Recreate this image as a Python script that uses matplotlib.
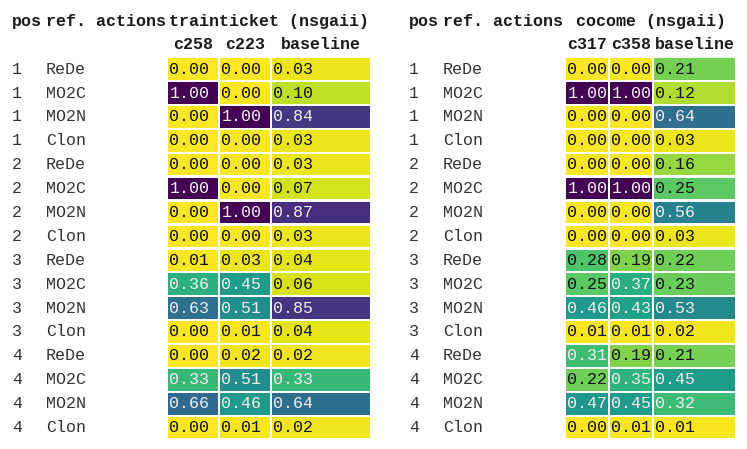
import numpy as np
import matplotlib
matplotlib.use("Agg")
import matplotlib.pyplot as plt
from matplotlib.patches import Rectangle

# data
positions = [1, 1, 1, 1, 2, 2, 2, 2, 3, 3, 3, 3, 4, 4, 4, 4]
actions = ["ReDe", "MO2C", "MO2N", "Clon"] * 4

tt_title = "trainticket (nsgaii)"
tt_cols = ["c258", "c223", "baseline"]
tt_c258 = [0.00, 1.00, 0.00, 0.00, 0.00, 1.00, 0.00, 0.00,
           0.01, 0.36, 0.63, 0.00, 0.00, 0.33, 0.66, 0.00]
tt_c223 = [0.00, 0.00, 1.00, 0.00, 0.00, 0.00, 1.00, 0.00,
           0.03, 0.45, 0.51, 0.01, 0.02, 0.51, 0.46, 0.01]
tt_base = [0.03, 0.10, 0.84, 0.03, 0.03, 0.07, 0.87, 0.03,
           0.04, 0.06, 0.85, 0.04, 0.02, 0.33, 0.64, 0.02]

cc_title = "cocome (nsgaii)"
cc_cols = ["c317", "c358", "baseline"]
cc_c317 = [0.00, 1.00, 0.00, 0.00, 0.00, 1.00, 0.00, 0.00,
           0.28, 0.25, 0.46, 0.01, 0.31, 0.22, 0.47, 0.00]
cc_c358 = [0.00, 1.00, 0.00, 0.00, 0.00, 1.00, 0.00, 0.00,
           0.19, 0.37, 0.43, 0.01, 0.19, 0.35, 0.45, 0.01]
cc_base = [0.21, 0.12, 0.64, 0.03, 0.16, 0.25, 0.56, 0.03,
           0.22, 0.23, 0.53, 0.02, 0.21, 0.45, 0.32, 0.01]

FONT = "Liberation Mono"
FS = 12
cmap = plt.get_cmap("viridis_r")


def luminance(c):
    rgb = []
    for v in c[:3]:
        rgb.append(v / 12.92 if v <= 0.03928 else ((v + 0.055) / 1.055) ** 2.4)
    return 0.2126 * rgb[0] + 0.7152 * rgb[1] + 0.0722 * rgb[2]


def draw_table(ax, title, cols, values, x_pos, x_act, col_edges):
    row_top = 58.3
    pitch = 23.9
    row_h = 21.6
    hdr1_y = 26
    hdr2_y = 49
    bold = dict(fontfamily=FONT, fontsize=FS, fontweight="bold",
                va="baseline", color="#1a1a1a")

    ax.text(x_pos, hdr1_y, "pos", ha="left", **bold)
    ax.text(x_pos + 34, hdr1_y, "ref. actions", ha="left", **bold)
    mid = (col_edges[0][0] + col_edges[-1][1]) / 2
    ax.text(mid, hdr1_y, title, ha="center", **bold)
    for name, (x0, x1) in zip(cols, col_edges):
        ax.text((x0 + x1) / 2, hdr2_y, name, ha="center", **bold)

    for i in range(len(positions)):
        top = row_top + i * pitch
        yb = top + row_h / 2 + 4.5
        ax.text(x_pos, yb, str(positions[i]), fontfamily=FONT, fontsize=FS,
                ha="left", va="baseline", color="#333333")
        ax.text(x_act, yb, actions[i], fontfamily=FONT, fontsize=FS,
                ha="left", va="baseline", color="#333333")
        for series, (x0, x1) in zip(values, col_edges):
            v = series[i]
            c = cmap(v)
            ax.add_patch(Rectangle((x0, top), x1 - x0, row_h, facecolor=c,
                                   edgecolor="none"))
            tc = "#f1f1f1" if luminance(c) < 0.408 else "#111111"
            ax.text(x0 + 1.5, yb, "%.2f" % v, fontfamily=FONT, fontsize=FS,
                    ha="left", va="baseline", color=tc)


fig = plt.figure(figsize=(7.47, 4.49), dpi=100)
ax = fig.add_axes([0, 0, 1, 1])
ax.set_xlim(0, 747)
ax.set_ylim(449, 0)
ax.axis("off")

draw_table(ax, tt_title, tt_cols, [tt_c258, tt_c223, tt_base], 12, 46,
           [(168, 218), (220, 270), (272, 370)])
draw_table(ax, cc_title, cc_cols, [cc_c317, cc_c358, cc_base], 409, 443,
           [(566, 608), (610, 652), (654, 735)])

fig.savefig("out.png", dpi=100, facecolor="white")
